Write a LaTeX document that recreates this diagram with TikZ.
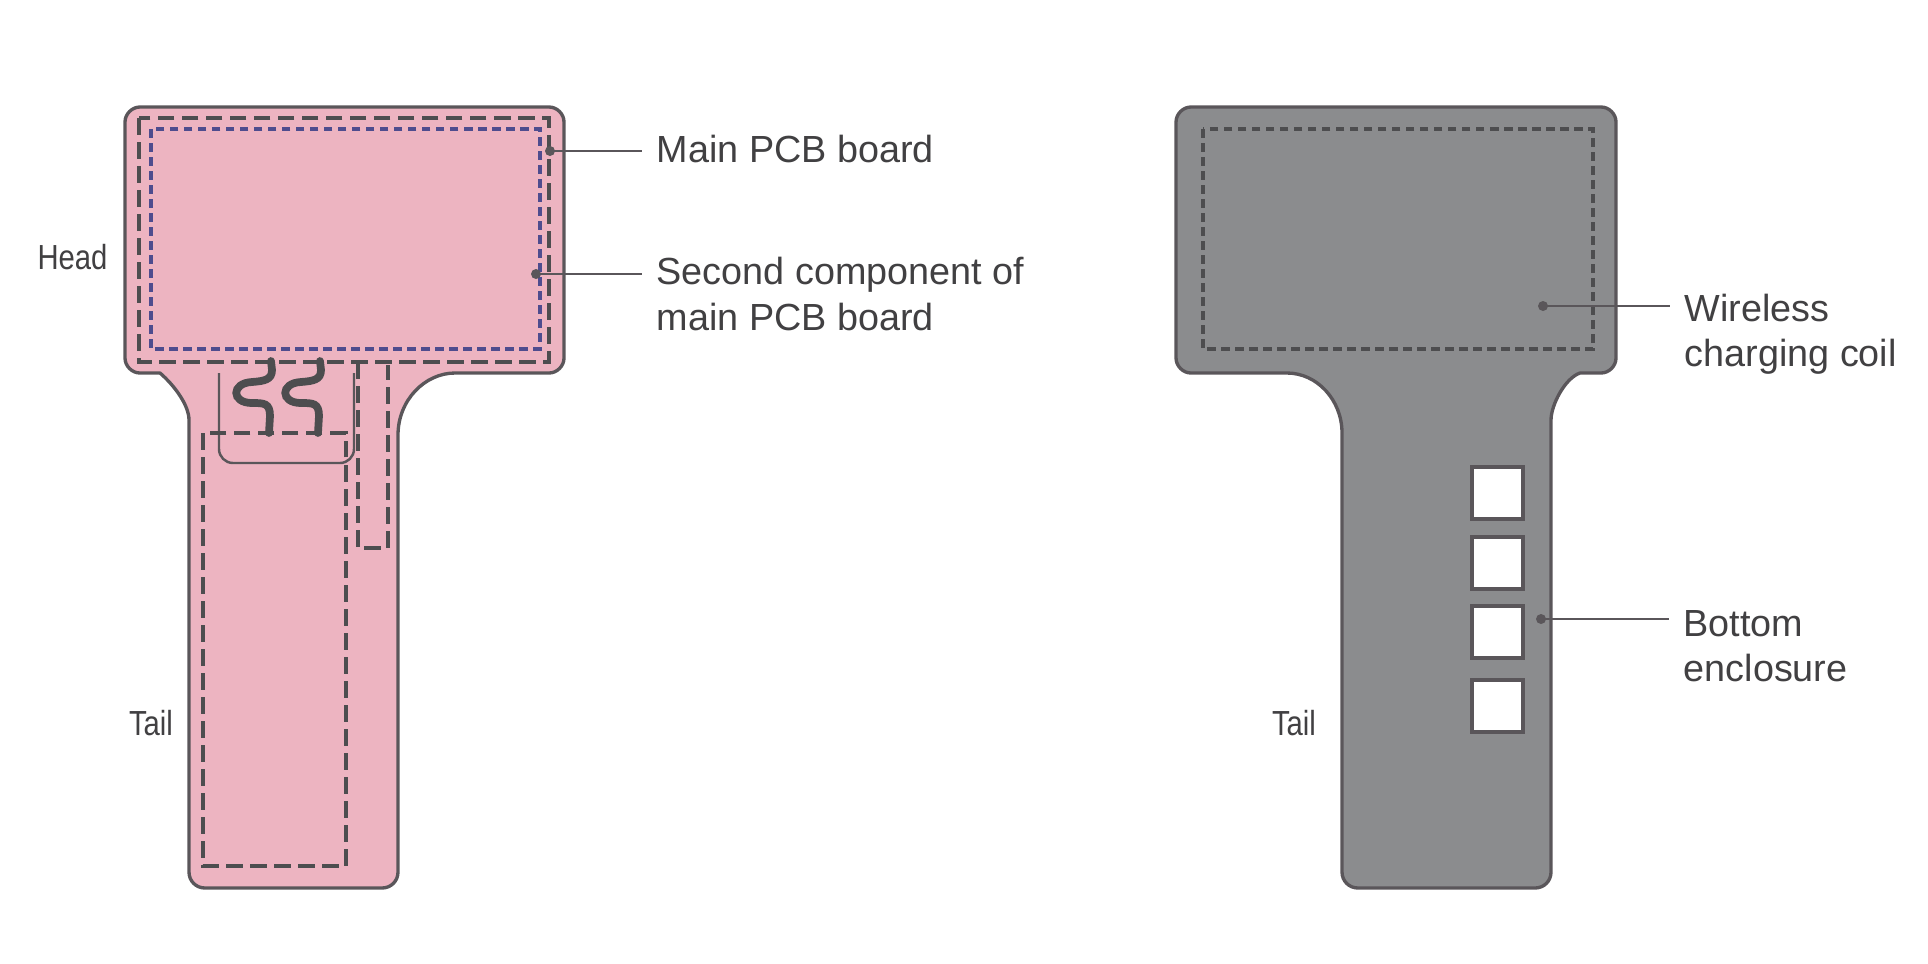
\documentclass[tikz,border=0pt]{standalone}
\usepackage{fontspec}
\usepackage{xcolor}
\setmainfont{Liberation Sans}
\newfontfamily\narrowfont[FakeStretch=0.84]{Liberation Sans}
\usetikzlibrary{calc, positioning}

\definecolor{bodypink}{HTML}{EDB4C1}
\definecolor{bodygrey}{HTML}{8B8C8E}
\definecolor{edgegrey}{HTML}{5A565A}
\definecolor{darkdash}{HTML}{4D4D4F}
\definecolor{bluedash}{HTML}{4E4C8E}
\definecolor{labeltext}{HTML}{414042}

\tikzset{
    outline/.style={draw=edgegrey, line width=0.95pt, line join=round},
    longdash/.style={draw=darkdash, line width=0.95pt, dash pattern=on 0.165cm off 0.075cm},
    shortdash/.style={draw=darkdash, line width=0.95pt, dash pattern=on 0.085cm off 0.055cm},
    bluerect/.style={draw=bluedash, line width=0.95pt, dash pattern=on 0.085cm off 0.055cm},
    flexline/.style={draw=edgegrey, line width=0.7pt},
    wire/.style={draw=darkdash, line width=2.2pt, line cap=round},
    window/.style={draw=edgegrey, line width=0.9pt, fill=white},
    leaddot/.style={circle, fill=edgegrey, inner sep=0pt, minimum size=0.1cm},
    leadline/.style={draw=edgegrey, line width=0.7pt},
    calllabel/.style={anchor=west, align=left, inner xsep=0.14cm, inner ysep=0pt, text=labeltext,
        font=\fontsize{10.74}{12.95}\selectfont},
    partlabel/.style={inner sep=0pt, text=labeltext, font=\narrowfont\fontsize{9.9}{12}\selectfont}
}

\begin{document}
\begin{tikzpicture}[x=0.01cm, y=-0.01cm]
    \useasboundingbox (0,0) rectangle (1928,963);

    % Left body
    \draw[outline, fill=bodypink] (160,373) -- (140,373)
        .. controls (132,373) and (125,366) .. (125,358) -- (125,122)
        .. controls (125,114) and (132,107) .. (140,107) -- (549,107)
        .. controls (557,107) and (564,114) .. (564,122) -- (564,358)
        .. controls (564,366) and (557,373) .. (549,373) -- (455,373)
        .. controls (425,373) and (398,400) .. (398,435) -- (398,872)
        .. controls (398,881) and (391,888) .. (382,888) -- (205,888)
        .. controls (196,888) and (189,881) .. (189,872) -- (189,420)
        .. controls (189,405) and (174,385) .. (160,373) -- cycle;

    % Dashed outlines in the head
    \draw[longdash] (139,118) rectangle (549,362);
    \draw[bluerect] (151,129) rectangle (540,349);

    % Flex and tail parts
    \draw[flexline, rounded corners=0.14cm] (219,373) -- (219,463) -- (354,463) -- (354,373);
    \draw[longdash] (203,433) rectangle (346,866);
    \draw[longdash] (358,362) -- (358,548) -- (388,548) -- (388,365);

    % Wires
    \draw[wire] (271,361) -- (272,370) .. controls (272,380) and (264,381) .. (252,382)
        .. controls (231,383) and (231,403) .. (252,403)
        .. controls (264,403) and (270,403) .. (270,416) -- (269,433);
    \draw[wire] (320,361) -- (321,370) .. controls (321,380) and (313,381) .. (301,382)
        .. controls (280,383) and (280,403) .. (301,403)
        .. controls (313,403) and (319,403) .. (319,416) -- (318,433);

    % Right body
    \draw[outline, fill=bodygrey] (1287,373) -- (1191,373)
        .. controls (1183,373) and (1176,366) .. (1176,358) -- (1176,122)
        .. controls (1176,114) and (1183,107) .. (1191,107) -- (1601,107)
        .. controls (1609,107) and (1616,114) .. (1616,122) -- (1616,358)
        .. controls (1616,366) and (1609,373) .. (1601,373) -- (1580,373)
        .. controls (1565,378) and (1551,405) .. (1551,420) -- (1551,872)
        .. controls (1551,881) and (1544,888) .. (1535,888) -- (1358,888)
        .. controls (1349,888) and (1342,881) .. (1342,872) -- (1342,433)
        .. controls (1342,400) and (1317,373) .. (1287,373) -- cycle;
    \draw[shortdash] (1203,129) rectangle (1593,349);

    % Windows
    \draw[window] (1472,467) rectangle (1523,519);
    \draw[window] (1472,537) rectangle (1523,589);
    \draw[window] (1472,606) rectangle (1523,658);
    \draw[window] (1472,680) rectangle (1523,732);

    % Labels
    \node[partlabel] (headleft) at (72.5,257) {Head};
    \node[partlabel] (tailleft) at (151,723) {Tail};
    \node[partlabel] (tailright) at (1294,723) {Tail};

    \node[calllabel] (mainpcb) at (642,149) {Main PCB board};
    \node[calllabel] (secondpcb) at (642,294) {Second component of\\main PCB board};
    \node[calllabel] (coil) at (1670,334) {Wireless\\charging coil};
    \node[calllabel] (enclosure) at (1669,646) {Bottom\\enclosure};

    % Leader lines
    \node[leaddot] (maindot) at (550,151) {};
    \node[leaddot] (seconddot) at (536,274) {};
    \node[leaddot] (coildot) at (1543,306) {};
    \node[leaddot] (enclosuredot) at (1541,619) {};

    \draw[leadline] (maindot.center) -- (maindot.center -| mainpcb.west);
    \draw[leadline] (seconddot.center) -- (seconddot.center -| secondpcb.west);
    \draw[leadline] (coildot.center) -- (coildot.center -| coil.west);
    \draw[leadline] (enclosuredot.center) -- (enclosuredot.center -| enclosure.west);
\end{tikzpicture}
\end{document}
